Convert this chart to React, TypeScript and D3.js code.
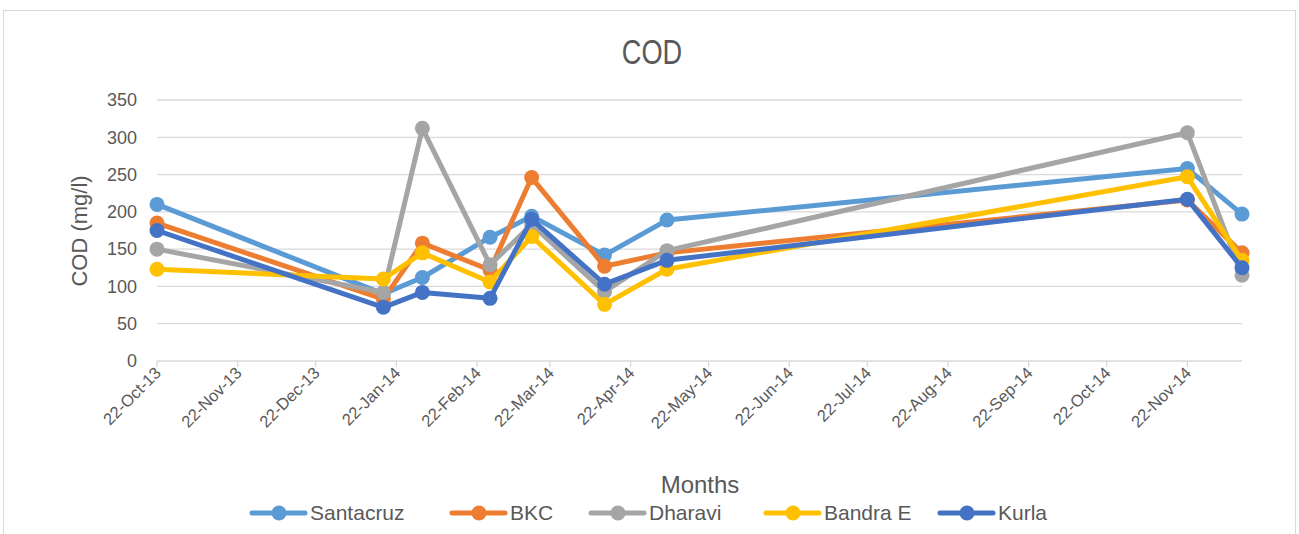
import * as d3 from "d3";

const WIDTH = 1299;
const HEIGHT = 534;
const MARGIN = { top: 100, right: 57, bottom: 173, left: 157 };
const FONT = "'Liberation Sans', Arial, sans-serif";

const dates = [
  "2013-10-22", "2014-01-17", "2014-02-01", "2014-02-27", "2014-03-15",
  "2014-04-12", "2014-05-06", "2014-11-22", "2014-12-13",
];

const santacruz = [210, 90, 112, 166, 194, 142, 189, 258, 197];
const bkc = [185, 83, 158, 122, 246, 127, 145, 216, 145];
const dharavi = [150, 92, 312, 129, 183, 93, 148, 306, 115];
const bandraE = [123, 110, 145, 106, 167, 76, 123, 247, 135];
const kurla = [175, 72, 92, 84, 190, 103, 135, 217, 125];

const seriesNames = ["Santacruz", "BKC", "Dharavi", "Bandra E", "Kurla"];
const seriesValues = [santacruz, bkc, dharavi, bandraE, kurla];
const colors = ["#5B9BD5", "#ED7D31", "#A5A5A5", "#FFC000", "#4472C4"];

const yTicks = [0, 50, 100, 150, 200, 250, 300, 350];
const xTickDates = [
  "2013-10-22", "2013-11-22", "2013-12-22", "2014-01-22", "2014-02-22",
  "2014-03-22", "2014-04-22", "2014-05-22", "2014-06-22", "2014-07-22",
  "2014-08-22", "2014-09-22", "2014-10-22", "2014-11-22",
];

const legendX = [252, 452, 591, 766, 940];

const parse = d3.utcParse("%Y-%m-%d");
const fmt = d3.utcFormat("%d-%b-%y");

export default function App() {
  const boundsWidth = WIDTH - MARGIN.left - MARGIN.right;
  const boundsHeight = HEIGHT - MARGIN.top - MARGIN.bottom;

  const parsed = dates.map((d) => parse(d) as Date);
  const xScale = d3
    .scaleUtc()
    .domain([parsed[0], parsed[parsed.length - 1]])
    .range([0, boundsWidth]);
  const yScale = d3.scaleLinear().domain([0, 350]).range([boundsHeight, 0]);

  const line = d3
    .line<number>()
    .x((_, i) => xScale(parsed[i]))
    .y((v) => yScale(v));

  return (
    <svg
      width={WIDTH}
      height={HEIGHT}
      style={{ position: "absolute", left: 0, top: 0, background: "#fff" }}
      fontFamily={FONT}
    >
      <rect x={3.5} y={10.5} width={1292} height={540} fill="#fff" stroke="#d9d9d9" />
      <text
        transform="translate(652,64) scale(0.85,1.1)"
        textAnchor="middle"
        fontSize={32}
        fill="#595959"
      >
        COD
      </text>
      <g transform={`translate(${MARGIN.left},${MARGIN.top})`}>
        {yTicks.map((t) => (
          <g key={t}>
            <line
              x1={0}
              x2={boundsWidth}
              y1={yScale(t)}
              y2={yScale(t)}
              stroke="#d9d9d9"
              strokeWidth={1.3}
            />
            <text
              x={-20}
              y={yScale(t)}
              dy="0.35em"
              textAnchor="end"
              fontSize={18}
              fill="#595959"
            >
              {t}
            </text>
          </g>
        ))}
        {xTickDates.map((d) => {
          const x = xScale(parse(d) as Date);
          return (
            <g key={d}>
              <line x1={x} x2={x} y1={boundsHeight} y2={boundsHeight + 6} stroke="#d9d9d9" strokeWidth={1.3} />
              <text
                transform={`translate(${x + 5},${boundsHeight + 13}) rotate(-45)`}
                textAnchor="end"
                fontSize={16.5}
                fill="#595959"
              >
                {fmt(parse(d) as Date)}
              </text>
            </g>
          );
        })}
        {seriesValues.map((vals, s) => (
          <g key={seriesNames[s]}>
            <path d={line(vals) ?? ""} fill="none" stroke={colors[s]} strokeWidth={5} strokeLinejoin="round" />
            {vals.map((v, i) => (
              <circle key={i} cx={xScale(parsed[i])} cy={yScale(v)} r={7.5} fill={colors[s]} />
            ))}
          </g>
        ))}
      </g>
      <text
        transform="translate(87,231) rotate(-90)"
        textAnchor="middle"
        fontSize={22}
        fill="#595959"
      >
        COD (mg/l)
      </text>
      <text x={700} y={493} textAnchor="middle" fontSize={24} fill="#595959">
        Months
      </text>
      {seriesNames.map((name, s) => (
        <g key={name} transform={`translate(${legendX[s]},513)`}>
          <line x1={0} x2={53} y1={0} y2={0} stroke={colors[s]} strokeWidth={5} strokeLinecap="round" />
          <circle cx={27} cy={0} r={7.5} fill={colors[s]} />
          <text x={58} y={0} dy="0.35em" fontSize={21} fill="#595959">
            {name}
          </text>
        </g>
      ))}
    </svg>
  );
}
